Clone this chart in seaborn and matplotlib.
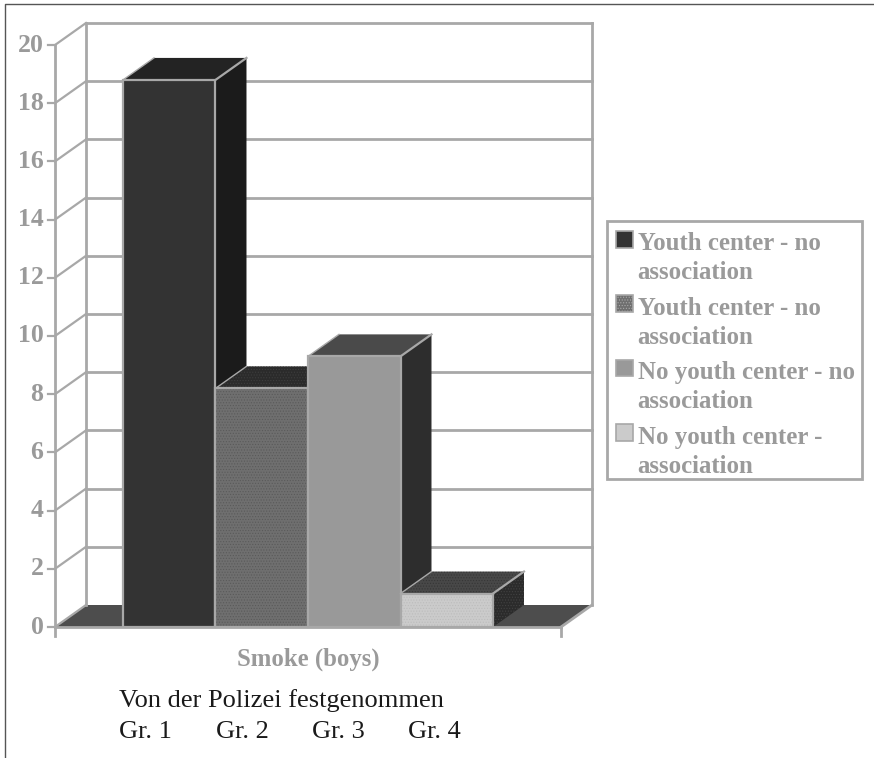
import matplotlib
matplotlib.use("Agg")
import matplotlib.pyplot as plt
from matplotlib.legend_handler import HandlerPatch
from matplotlib.lines import Line2D
from matplotlib.patches import Patch, Polygon, Rectangle
import pandas as pd
import seaborn as sns

groups = ["Gr. 1", "Gr. 2", "Gr. 3", "Gr. 4"]
values = [18.8, 8.2, 9.3, 1.15]
legend_labels = [
    "Youth center - no\nassociation",
    "Youth center - no\nassociation",
    "No youth center - no\nassociation",
    "No youth center -\nassociation",
]
front_colors = ["#333333", "#6f6f6f", "#999999", "#cbcbcb"]
top_colors = ["#232323", "#2b2b2b", "#4a4a4a", "#484848"]
side_colors = ["#1b1b1b", "#222222", "#2d2d2d", "#2b2b2b"]
front_dots = [None, "#5a5a5a", None, "#bcbcbc"]
top_dots = [None, "#3d3d3d", None, "#363636"]
side_dots = [None, None, None, "#424242"]
y_ticks = list(range(0, 21, 2))
x_label = "Smoke (boys)"
caption = "Von der Polizei festgenommen"

W, H = 874, 758
GREY = "#a8a8a8"
TEXT_GREY = "#9a9a9a"
SERIF = "Liberation Serif"
# Oblique depth of the 3D box, in category and value units
DX, DY = 0.335, 0.756
XMIN, XMAX = -1.235, 4.235
DOTS = "......"

plt.rcParams["hatch.linewidth"] = 0.5
fig = plt.figure(figsize=(W / 100, H / 100), dpi=100, facecolor="white")
ax = fig.add_axes([55 / W, 1 - 627 / H, 506 / W, 582 / H])

df = pd.DataFrame({"group": groups, "value": values})
sns.barplot(data=df, x="group", y="value", hue="group", hue_order=groups,
            order=groups, palette=front_colors, dodge=False, width=1.0,
            legend=False, ax=ax, saturation=1)
ax.set_xlim(XMIN, XMAX)
ax.set_ylim(0, 20)
ax.axis("off")


def line(xs, ys, lw=2.0, z=2):
    ax.add_line(Line2D(xs, ys, color=GREY, lw=lw, zorder=z, clip_on=False,
                       solid_capstyle="projecting"))


def face(points, color, z, dots=None):
    ax.add_patch(Polygon(points, closed=True, facecolor=color, edgecolor="none",
                         zorder=z, clip_on=False))
    if dots:
        ax.add_patch(Polygon(points, closed=True, fill=False, edgecolor=dots,
                             hatch=DOTS, lw=0, zorder=z, clip_on=False))


# Walls and floor
face([(XMIN, 0), (XMAX, 0), (XMAX + DX, DY), (XMIN + DX, DY)], "#4d4d4d", 1)
for t in y_ticks:
    line([XMIN - 0.08, XMIN], [t, t], 1.6)
    line([XMIN, XMIN + DX], [t, t + DY], 1.6)
    if t:
        line([XMIN + DX, XMAX + DX], [t + DY, t + DY])
    ax.text(XMIN - 0.125, t, str(t), ha="right", va="center", color=TEXT_GREY,
            family=SERIF, weight="bold", fontsize=18.5)
line([XMIN, XMIN], [0, 20])
line([XMIN + DX, XMIN + DX], [DY, 20 + DY])
line([XMAX + DX, XMAX + DX], [DY, 20 + DY])
line([XMAX, XMAX + DX], [0, DY])
line([XMIN, XMAX], [0, 0], z=30)
line([XMIN, XMIN], [-0.3, 0], z=30)
line([XMAX, XMAX], [-0.3, 0], z=30)

# Bars, drawn left to right so each one overlaps its neighbour's side face
for i, (container, v) in enumerate(zip(ax.containers, values)):
    bar = container.patches[0]
    x0, x1 = bar.get_x(), bar.get_x() + bar.get_width()
    z = 5 + i * 4
    face([(x0, v), (x1, v), (x1 + DX, v + DY), (x0 + DX, v + DY)], top_colors[i], z, top_dots[i])
    face([(x1, 0), (x1 + DX, DY), (x1 + DX, v + DY), (x1, v)], side_colors[i], z, side_dots[i])
    bar.set_zorder(z + 1)
    bar.set_clip_on(False)
    if front_dots[i]:
        ax.add_patch(Polygon([(x0, 0), (x1, 0), (x1, v), (x0, v)], fill=False,
                             edgecolor=front_dots[i], hatch=DOTS, lw=0, zorder=z + 1.5))
    ax.add_patch(Polygon([(x0, 0), (x1, 0), (x1, v), (x0, v)], fill=False,
                         edgecolor=GREY, lw=1.6, zorder=z + 2, clip_on=False))
    line([x0, x0 + DX], [v, v + DY], 1.0, z + 2)
    line([x1, x1 + DX], [v, v + DY], 1.6, z + 2)

# Text below the axis
fig.text(308 / W, 1 - 659 / H, x_label, ha="center", va="center", color=TEXT_GREY,
         family=SERIF, weight="bold", fontsize=17.8)
fig.text(119 / W, 1 - 701 / H, caption, ha="left", va="center", color="#1a1a1a",
         family=SERIF, fontsize=19)
for g, px in zip(groups, [119, 216, 312, 408]):
    fig.text(px / W, 1 - 732 / H, g, ha="left", va="center", color="#1a1a1a",
             family=SERIF, fontsize=19)


# Legend swatches sit beside the first line of each two-line label
def raised_swatch(xdescent, ydescent, width, height, **kwargs):
    return Rectangle((-xdescent, -ydescent + 14), width, height)


# Legend box, with the entries placed inside it
fig.add_artist(Rectangle((607 / W, 1 - 479 / H), 255 / W, 258 / H, transform=fig.transFigure,
                         facecolor="white", edgecolor=GREY, lw=2))
handles = [Patch(facecolor=c, edgecolor=GREY, lw=1.2,
                 hatch=DOTS if i == 1 else None)
           for i, c in enumerate(front_colors)]
leg = fig.legend(handles, legend_labels, loc="upper left",
                 bbox_to_anchor=(609 / W, 1 - 225 / H), bbox_transform=fig.transFigure,
                 prop={"family": SERIF, "weight": "bold", "size": 17.9},
                 labelcolor=TEXT_GREY, frameon=False, borderpad=0.3,
                 handlelength=0.65, handleheight=0.65, handletextpad=0.2,
                 labelspacing=0.5, borderaxespad=0,
                 handler_map={Patch: HandlerPatch(patch_func=raised_swatch)})
for t in leg.get_texts():
    t.set_linespacing(1.33)

# Page border at the top and left
fig.add_artist(Line2D([5 / W, 5 / W, 1], [0, 1 - 4 / H, 1 - 4 / H], color="#555555", lw=1.0))

fig.savefig("out.png", dpi=100)
